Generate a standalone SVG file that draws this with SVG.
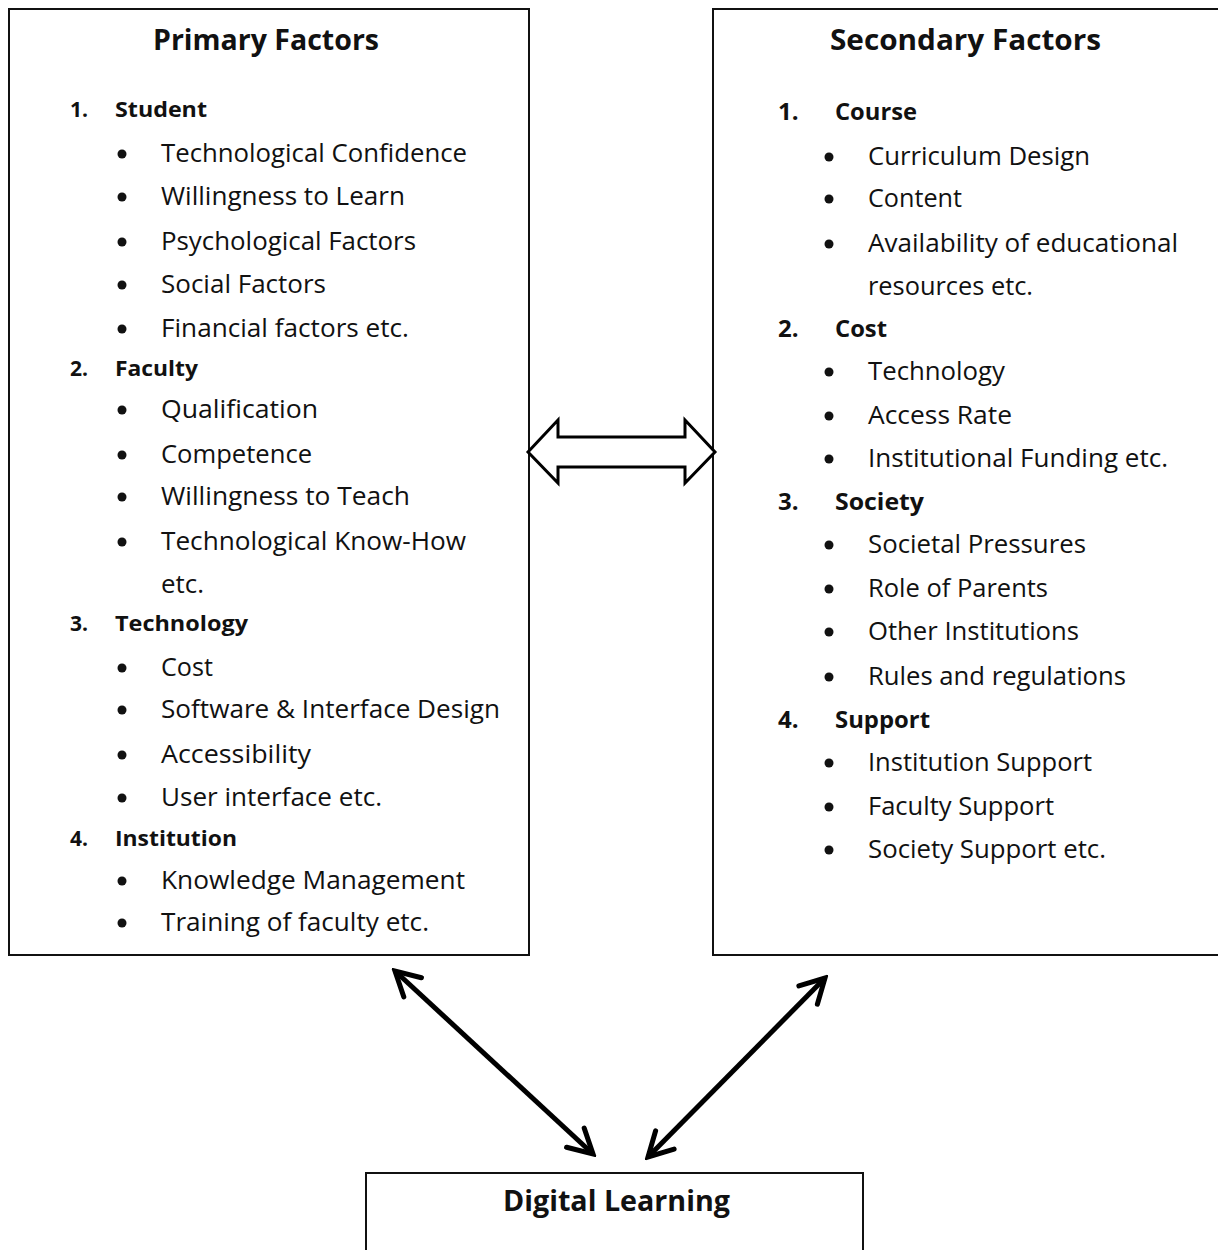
<svg xmlns="http://www.w3.org/2000/svg" width="1218" height="1250" viewBox="0 0 1218 1250">
<style>
  .box { fill: #fff; stroke: #111; stroke-width: 2; }
  .title { font-family: "Open Sans", "Noto Sans", sans-serif; font-weight: bold; font-size: 29px; fill: #111; }
  .head { font-family: "Open Sans", "Noto Sans", sans-serif; font-weight: bold; font-size: 21px; fill: #111; }
  .headR { font-family: "Open Sans", "Noto Sans", sans-serif; font-weight: bold; font-size: 24px; fill: #111; }
  .item { font-family: "Open Sans", "Noto Sans", sans-serif; font-size: 25px; fill: #111; }
  .bul { fill: #111; }
  .conn { stroke: #000; stroke-width: 5; fill: none; }
  .block { stroke: #000; stroke-width: 3; fill: #fff; stroke-linejoin: miter; }
</style>
<defs>
  <marker id="chev" viewBox="-30 -16 34 32" refX="0" refY="0" markerWidth="34" markerHeight="32" markerUnits="userSpaceOnUse" orient="auto-start-reverse">
    <path d="M -24,-13 L 0,0 L -24,13" fill="none" stroke="#000" stroke-width="5" stroke-linecap="round" stroke-linejoin="miter"/>
  </marker>
</defs>

<g id="primary">
  <rect class="box" x="9" y="9" width="520" height="946"/>
  <text class="title" x="153" y="50" textLength="226" lengthAdjust="spacingAndGlyphs">Primary Factors</text>
  <text class="head" x="70" y="117">1.</text>
  <text class="head" x="115" y="117" textLength="92" lengthAdjust="spacingAndGlyphs">Student</text>
  <circle class="bul" cx="122" cy="154" r="4.5"/>
  <text class="item" x="161" y="162" textLength="306" lengthAdjust="spacingAndGlyphs">Technological Confidence</text>
  <circle class="bul" cx="122" cy="197" r="4.5"/>
  <text class="item" x="161" y="205" textLength="244" lengthAdjust="spacingAndGlyphs">Willingness to Learn</text>
  <circle class="bul" cx="122" cy="242" r="4.5"/>
  <text class="item" x="161" y="250" textLength="255" lengthAdjust="spacingAndGlyphs">Psychological Factors</text>
  <circle class="bul" cx="122" cy="285" r="4.5"/>
  <text class="item" x="161" y="293" textLength="165" lengthAdjust="spacingAndGlyphs">Social Factors</text>
  <circle class="bul" cx="122" cy="329" r="4.5"/>
  <text class="item" x="161" y="337" textLength="248" lengthAdjust="spacingAndGlyphs">Financial factors etc.</text>
  <text class="head" x="70" y="376">2.</text>
  <text class="head" x="115" y="376" textLength="83" lengthAdjust="spacingAndGlyphs">Faculty</text>
  <circle class="bul" cx="122" cy="410" r="4.5"/>
  <text class="item" x="161" y="418" textLength="157" lengthAdjust="spacingAndGlyphs">Qualification</text>
  <circle class="bul" cx="122" cy="455" r="4.5"/>
  <text class="item" x="161" y="463" textLength="151" lengthAdjust="spacingAndGlyphs">Competence</text>
  <circle class="bul" cx="122" cy="497" r="4.5"/>
  <text class="item" x="161" y="505" textLength="249" lengthAdjust="spacingAndGlyphs">Willingness to Teach</text>
  <circle class="bul" cx="122" cy="542" r="4.5"/>
  <text class="item" x="161" y="550" textLength="305" lengthAdjust="spacingAndGlyphs">Technological Know-How</text>
  <text class="item" x="161" y="593" textLength="43" lengthAdjust="spacingAndGlyphs">etc.</text>
  <text class="head" x="70" y="631">3.</text>
  <text class="head" x="115" y="631" textLength="133" lengthAdjust="spacingAndGlyphs">Technology</text>
  <circle class="bul" cx="122" cy="668" r="4.5"/>
  <text class="item" x="161" y="676" textLength="52" lengthAdjust="spacingAndGlyphs">Cost</text>
  <circle class="bul" cx="122" cy="710" r="4.5"/>
  <text class="item" x="161" y="718" textLength="339" lengthAdjust="spacingAndGlyphs">Software &amp; Interface Design</text>
  <circle class="bul" cx="122" cy="755" r="4.5"/>
  <text class="item" x="161" y="763" textLength="150" lengthAdjust="spacingAndGlyphs">Accessibility</text>
  <circle class="bul" cx="122" cy="798" r="4.5"/>
  <text class="item" x="161" y="806" textLength="221" lengthAdjust="spacingAndGlyphs">User interface etc.</text>
  <text class="head" x="70" y="846">4.</text>
  <text class="head" x="115" y="846" textLength="122" lengthAdjust="spacingAndGlyphs">Institution</text>
  <circle class="bul" cx="122" cy="881" r="4.5"/>
  <text class="item" x="161" y="889" textLength="304" lengthAdjust="spacingAndGlyphs">Knowledge Management</text>
  <circle class="bul" cx="122" cy="923" r="4.5"/>
  <text class="item" x="161" y="931" textLength="268" lengthAdjust="spacingAndGlyphs">Training of faculty etc.</text>
</g>

<g id="secondary">
  <rect class="box" x="713" y="9" width="520" height="946"/>
  <text class="title" x="830" y="50" textLength="271" lengthAdjust="spacingAndGlyphs">Secondary Factors</text>
  <text class="headR" x="778" y="120">1.</text>
  <text class="headR" x="835" y="120" textLength="82" lengthAdjust="spacingAndGlyphs">Course</text>
  <circle class="bul" cx="829" cy="157" r="4.5"/>
  <text class="item" x="868" y="165" textLength="222" lengthAdjust="spacingAndGlyphs">Curriculum Design</text>
  <circle class="bul" cx="829" cy="199" r="4.5"/>
  <text class="item" x="868" y="207" textLength="94" lengthAdjust="spacingAndGlyphs">Content</text>
  <circle class="bul" cx="829" cy="244" r="4.5"/>
  <text class="item" x="868" y="252" textLength="310" lengthAdjust="spacingAndGlyphs">Availability of educational</text>
  <text class="item" x="868" y="295" textLength="165" lengthAdjust="spacingAndGlyphs">resources etc.</text>
  <text class="headR" x="778" y="337">2.</text>
  <text class="headR" x="835" y="337" textLength="52" lengthAdjust="spacingAndGlyphs">Cost</text>
  <circle class="bul" cx="829" cy="372" r="4.5"/>
  <text class="item" x="868" y="380" textLength="137" lengthAdjust="spacingAndGlyphs">Technology</text>
  <circle class="bul" cx="829" cy="416" r="4.5"/>
  <text class="item" x="868" y="424" textLength="144" lengthAdjust="spacingAndGlyphs">Access Rate</text>
  <circle class="bul" cx="829" cy="459" r="4.5"/>
  <text class="item" x="868" y="467" textLength="300" lengthAdjust="spacingAndGlyphs">Institutional Funding etc.</text>
  <text class="headR" x="778" y="510">3.</text>
  <text class="headR" x="835" y="510" textLength="89" lengthAdjust="spacingAndGlyphs">Society</text>
  <circle class="bul" cx="829" cy="545" r="4.5"/>
  <text class="item" x="868" y="553" textLength="218" lengthAdjust="spacingAndGlyphs">Societal Pressures</text>
  <circle class="bul" cx="829" cy="589" r="4.5"/>
  <text class="item" x="868" y="597" textLength="180" lengthAdjust="spacingAndGlyphs">Role of Parents</text>
  <circle class="bul" cx="829" cy="632" r="4.5"/>
  <text class="item" x="868" y="640" textLength="211" lengthAdjust="spacingAndGlyphs">Other Institutions</text>
  <circle class="bul" cx="829" cy="677" r="4.5"/>
  <text class="item" x="868" y="685" textLength="258" lengthAdjust="spacingAndGlyphs">Rules and regulations</text>
  <text class="headR" x="778" y="728">4.</text>
  <text class="headR" x="835" y="728" textLength="95" lengthAdjust="spacingAndGlyphs">Support</text>
  <circle class="bul" cx="829" cy="763" r="4.5"/>
  <text class="item" x="868" y="771" textLength="224" lengthAdjust="spacingAndGlyphs">Institution Support</text>
  <circle class="bul" cx="829" cy="807" r="4.5"/>
  <text class="item" x="868" y="815" textLength="186" lengthAdjust="spacingAndGlyphs">Faculty Support</text>
  <circle class="bul" cx="829" cy="850" r="4.5"/>
  <text class="item" x="868" y="858" textLength="238" lengthAdjust="spacingAndGlyphs">Society Support etc.</text>
</g>

<g id="digital-learning">
  <rect class="box" x="366" y="1173" width="497" height="100"/>
  <text class="title" x="503" y="1211" textLength="227" lengthAdjust="spacingAndGlyphs">Digital Learning</text>
</g>

<g id="connectors">
  <path class="block" d="M 528,452 L 558,420 L 558,437 L 685,437 L 685,420 L 715,452 L 685,483 L 685,467 L 558,467 L 558,483 Z"/>
  <line class="conn" x1="395" y1="971" x2="593" y2="1154" marker-start="url(#chev)" marker-end="url(#chev)"/>
  <line class="conn" x1="825" y1="978" x2="648" y2="1157" marker-start="url(#chev)" marker-end="url(#chev)"/>
</g>
</svg>
